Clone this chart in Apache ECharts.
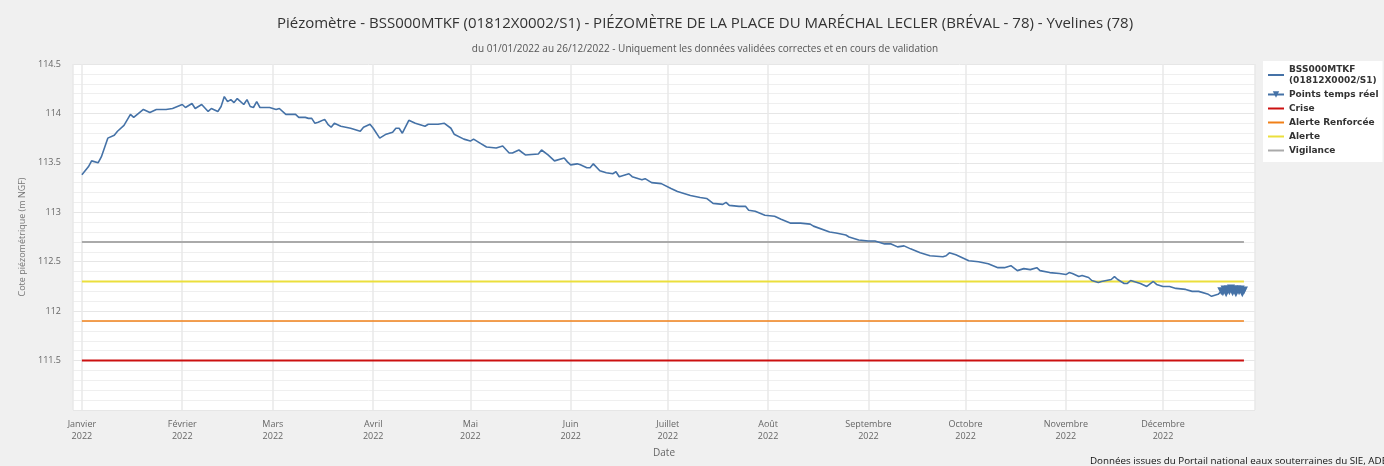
<!DOCTYPE html>
<html>
<head>
<meta charset="utf-8">
<script src="https://cdn.jsdelivr.net/npm/echarts@6/dist/echarts.min.js"></script>
<style>
  html, body { margin: 0; padding: 0; background: #f0f0f0; }
  #chart { width: 1384px; height: 466px; }
</style>
</head>
<body>
<div id="chart"></div>
<script>
// jours depuis le 01/01/2022 et cotes (m NGF)
const levelDays = [0, 2, 3, 5, 6, 8, 10, 11, 13, 15, 16, 19, 21, 23, 26, 28, 31, 32, 34, 35, 37, 39, 40, 42, 43, 44, 45, 46, 47, 48, 50, 51, 52, 53, 54, 55, 58, 60, 61, 63, 66, 67, 69, 70, 71, 72, 73, 75, 76, 77, 78, 80, 83, 86, 87, 89, 90, 92, 94, 96, 97, 98, 99, 101, 103, 106, 107, 110, 112, 114, 115, 118, 120, 121, 123, 125, 128, 130, 132, 133, 135, 137, 141, 142, 144, 146, 149, 150, 151, 153, 154, 156, 157, 158, 160, 162, 164, 165, 166, 167, 169, 170, 173, 174, 176, 179, 182, 184, 188, 191, 193, 195, 198, 199, 200, 203, 205, 206, 208, 211, 214, 216, 219, 222, 225, 226, 231, 233, 236, 237, 240, 243, 245, 248, 250, 252, 254, 256, 259, 262, 266, 267, 268, 270, 272, 274, 277, 280, 283, 285, 287, 289, 291, 293, 295, 296, 299, 302, 304, 305, 306, 308, 309, 311, 312, 314, 315, 318, 319, 320, 322, 323, 324, 325, 327, 329, 331, 332, 334, 336, 338, 341, 343, 345, 348, 349, 351, 352];
const levelValues = [113.38, 113.46, 113.52, 113.50, 113.56, 113.75, 113.78, 113.82, 113.88, 113.99, 113.96, 114.04, 114.01, 114.04, 114.04, 114.05, 114.09, 114.06, 114.10, 114.05, 114.09, 114.02, 114.05, 114.02, 114.07, 114.17, 114.12, 114.14, 114.11, 114.15, 114.09, 114.14, 114.07, 114.06, 114.12, 114.06, 114.06, 114.04, 114.05, 113.99, 113.99, 113.96, 113.96, 113.95, 113.95, 113.90, 113.91, 113.94, 113.89, 113.86, 113.90, 113.87, 113.85, 113.82, 113.86, 113.89, 113.85, 113.75, 113.79, 113.81, 113.85, 113.85, 113.80, 113.93, 113.90, 113.87, 113.89, 113.89, 113.90, 113.85, 113.79, 113.74, 113.72, 113.74, 113.70, 113.66, 113.65, 113.67, 113.60, 113.60, 113.63, 113.58, 113.59, 113.63, 113.58, 113.52, 113.55, 113.51, 113.48, 113.49, 113.48, 113.45, 113.45, 113.49, 113.42, 113.40, 113.39, 113.41, 113.36, 113.37, 113.39, 113.36, 113.33, 113.34, 113.30, 113.29, 113.24, 113.21, 113.17, 113.15, 113.14, 113.09, 113.08, 113.10, 113.07, 113.06, 113.06, 113.02, 113.01, 112.97, 112.96, 112.93, 112.89, 112.89, 112.88, 112.86, 112.80, 112.79, 112.77, 112.75, 112.72, 112.71, 112.71, 112.68, 112.68, 112.65, 112.66, 112.63, 112.59, 112.56, 112.55, 112.56, 112.59, 112.57, 112.54, 112.51, 112.50, 112.48, 112.44, 112.44, 112.46, 112.41, 112.43, 112.42, 112.44, 112.41, 112.39, 112.38, 112.37, 112.39, 112.38, 112.35, 112.36, 112.34, 112.31, 112.29, 112.30, 112.32, 112.35, 112.32, 112.28, 112.28, 112.31, 112.30, 112.28, 112.25, 112.30, 112.27, 112.25, 112.25, 112.23, 112.22, 112.20, 112.20, 112.17, 112.15, 112.17, 112.20];

// points temps réel (fin décembre)
const rtDays = [352.5, 353, 353.5, 354, 354.5, 355, 355.5, 356, 356.5, 357, 357.5, 358, 358.5, 359];
const rtValues = [112.19, 112.22, 112.18, 112.22, 112.20, 112.23, 112.19, 112.22, 112.18, 112.22, 112.20, 112.22, 112.18, 112.21];

// seuils
const thresholdNames = ['Crise', 'Alerte Renforcée', 'Alerte', 'Vigilance'];
const thresholdValues = [111.5, 111.9, 112.3, 112.7];
const thresholdColors = ['#cc1010', '#f08018', '#ebdf3c', '#aaaaaa'];
const thresholdWidths = [2, 1.5, 2, 2];

const monthNames = ['Janvier', 'Février', 'Mars', 'Avril', 'Mai', 'Juin', 'Juillet', 'Août', 'Septembre', 'Octobre', 'Novembre', 'Décembre'];

const t0 = new Date(2022, 0, 1).getTime();
const dayMs = 86400000;
const toTime = (d) => t0 + d * dayMs;

const mainName = 'BSS000MTKF (01812X0002/S1)';
const series = [
  {
    name: mainName,
    type: 'line',
    symbol: 'none',
    lineStyle: { color: '#4572a7', width: 1.6 },
    itemStyle: { color: '#4572a7' },
    data: levelDays.map((d, i) => [toTime(d), levelValues[i]]),
    z: 5,
  },
  {
    name: 'Points temps réel',
    type: 'line',
    symbol: 'triangle',
    symbolRotate: 180,
    symbolSize: 8,
    lineStyle: { color: '#4572a7', width: 1.6 },
    itemStyle: { color: '#4572a7' },
    data: [[toTime(levelDays[levelDays.length - 1]), levelValues[levelValues.length - 1]]]
      .concat(rtDays.map((d, i) => [toTime(d), rtValues[i]])),
    z: 6,
  },
];
thresholdNames.forEach((name, i) => {
  series.push({
    name,
    type: 'line',
    symbol: 'none',
    lineStyle: { color: thresholdColors[i], width: thresholdWidths[i] },
    itemStyle: { color: thresholdColors[i] },
    data: [[toTime(0), thresholdValues[i]], [toTime(359), thresholdValues[i]]],
    z: 3,
  });
});

const legendData = [mainName, 'Points temps réel'].concat(thresholdNames).map((name) =>
  name === 'Points temps réel' ? { name, itemStyle: { opacity: 1 } } : { name }
);

const chart = echarts.init(document.getElementById('chart'));
chart.setOption({
  animation: false,
  backgroundColor: '#f0f0f0',
  textStyle: { fontFamily: 'Open Sans' },
  title: {
    text: 'Piézomètre - BSS000MTKF (01812X0002/S1) - PIÉZOMÈTRE DE LA PLACE DU MARÉCHAL LECLER (BRÉVAL - 78) - Yvelines (78)',
    subtext: 'du 01/01/2022 au 26/12/2022 - Uniquement les données validées correctes et en cours de validation',
    left: 700,
    textAlign: 'center',
    top: 11,
    itemGap: 13,
    textStyle: { fontSize: 15, fontWeight: 'normal', color: '#333', fontFamily: 'Open Sans' },
    subtextStyle: { fontSize: 10, color: '#555', fontFamily: 'Open Sans' },
  },
  legend: {
    orient: 'vertical',
    left: 1263,
    top: 61,
    width: 118,
    padding: [3, 4, 6, 4],
    backgroundColor: '#fff',
    itemWidth: 16,
    itemHeight: 8,
    itemGap: 3,
    itemStyle: { opacity: 0 },
    formatter: (n) => n.replace(' (', '\n('),
    textStyle: { fontSize: 9, fontWeight: 'bold', color: '#333', fontFamily: 'DejaVu Sans', lineHeight: 11 },
    data: legendData,
  },
  grid: {
    left: 73,
    right: 129,
    top: 64,
    bottom: 56,
    show: true,
    backgroundColor: '#fff',
    borderWidth: 0,
  },
  xAxis: {
    type: 'time',
    min: new Date(2021, 11, 29, 6).getTime(),
    max: new Date(2022, 11, 29, 10).getTime(),
    splitNumber: 12,
    minInterval: 28 * dayMs,
    name: 'Date',
    nameLocation: 'middle',
    nameGap: 38,
    nameTextStyle: { fontSize: 10, color: '#666' },
    axisLine: { show: false },
    axisTick: { show: false },
    axisLabel: {
      fontSize: 9,
      color: '#666',
      lineHeight: 12,
      margin: 8,
      formatter: (v) => monthNames[new Date(v).getMonth()] + '\n' + new Date(v).getFullYear(),
    },
    splitLine: { show: true, lineStyle: { color: '#e8e8e8', width: 1.5 } },
  },
  yAxis: {
    type: 'value',
    min: 111,
    max: 114.5,
    interval: 0.5,
    name: 'Cote piézométrique (m NGF)',
    nameLocation: 'middle',
    nameGap: 42,
    nameTextStyle: { fontSize: 9, color: '#777' },
    axisLine: { show: false },
    axisTick: { show: false },
    axisLabel: {
      fontSize: 9,
      color: '#666',
      margin: 12,
      formatter: (v) => (v === 111 ? '' : String(v)),
    },
    splitLine: { show: true, lineStyle: { color: '#e6e6e6' } },
    minorTick: { show: false, splitNumber: 5 },
    minorSplitLine: { show: true, lineStyle: { color: '#efefef' } },
  },
  graphic: [
    {
      type: 'text',
      left: 1090,
      top: 456,
      style: {
        text: 'Données issues du Portail national eaux souterraines du SIE, ADES',
        fontSize: 9.8,
        fill: '#111',
        fontFamily: 'Open Sans',
      },
    },
  ],
  series,
});
</script>
</body>
</html>
